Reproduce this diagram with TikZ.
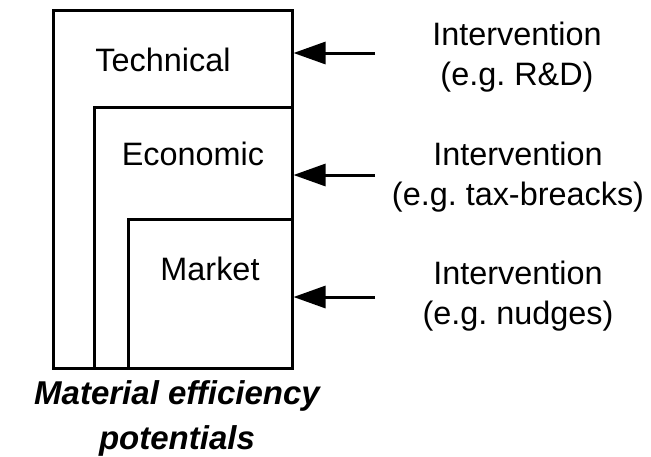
\documentclass[tikz,border=0pt]{standalone}
\usepackage{fontspec}
\setmainfont{Liberation Sans}
\usepackage{tikz}
\usetikzlibrary{arrows.meta}
\frenchspacing

\tikzset{
    box/.style={draw, line width=1.5pt, inner sep=0pt},
    lbl/.style={font=\fontsize{16.2}{20}\selectfont},
    note/.style={font=\fontsize{16.2}{20}\selectfont, align=center},
    arr/.style={line width=1.5pt, -{Triangle[length=16pt, width=11pt]}},
}

\begin{document}
\begin{tikzpicture}[x=0.5pt, y=-0.5pt]
    \useasboundingbox (0,0) rectangle (651,456);
    % nested potentials
    \node[box, minimum width=119.5pt, minimum height=179pt] (tech) at (172.5,189) {};
    \node[box, minimum width=99pt, minimum height=130.5pt] (econ) at (193,237.5) {};
    \node[box, minimum width=82pt, minimum height=74.5pt] (mark) at (210,293.5) {};
    \node[lbl] (techlbl) at (163,60) {Technical};
    \node[lbl] (econlbl) at (193,154) {Economic};
    \node[lbl] (marklbl) at (210,269) {Market};
    % interventions
    \node[note] (int1) at (517,57) {Intervention\\(e.g. R\&D)};
    \node[note] (int2) at (518,177) {Intervention\\(e.g. tax-breacks)};
    \node[note] (int3) at (518,296) {Intervention\\(e.g. nudges)};
    \coordinate (src1) at (375,53);
    \coordinate (src2) at (375,175);
    \coordinate (src3) at (375,297);
    \draw[arr] (src1) -- (src1 -| tech.east);
    \draw[arr] (src2) -- (src2 -| econ.east);
    \draw[arr] (src3) -- (src3 -| mark.east);
    \node[font=\fontsize{16.5}{22.5}\selectfont\bfseries\itshape, align=center] (cap) at (177,418) {Material efficiency\\potentials};
\end{tikzpicture}
\end{document}
